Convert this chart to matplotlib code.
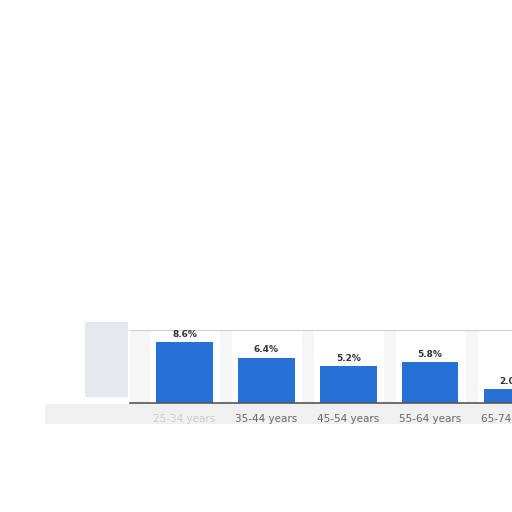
import matplotlib.pyplot as plt
from matplotlib.patches import Rectangle

categories = ["25-34 years", "35-44 years", "45-54 years", "55-64 years", "65-74 years"]
values = [8.6, 6.4, 5.2, 5.8, 2.0]

BAR_COLOR = "#2771d6"

fig = plt.figure(figsize=(5.12, 5.12), dpi=100)
fig.patch.set_facecolor("white")

# blurred shadow bits from the original screenshot (behind the axes)
fig.patches.append(Rectangle((85 / 512, 115 / 512), 43 / 512, 75 / 512, transform=fig.transFigure,
                             facecolor="#e4e8ee", edgecolor="none", zorder=-1))
fig.patches.append(Rectangle((45 / 512, 88 / 512), 467 / 512, 20 / 512, transform=fig.transFigure,
                             facecolor="#f0f0f0", edgecolor="none", zorder=-1))

ax = fig.add_axes([130 / 512, 109 / 512, 382 / 512, 73 / 512])
ax.set_facecolor("#f6f6f6")
x = range(len(values))
for i in x:
    ax.axvspan(i - 0.42, i + 0.42, color="white", zorder=0)
bars = ax.bar(x, values, width=0.69, color=BAR_COLOR, zorder=2)
for i, v in enumerate(values):
    ax.text(i, v + 0.45, f"{v:.1f}%", ha="center", va="bottom", fontsize=6.5,
            fontweight="bold", color="#333333")

ax.set_xlim(-0.667, 3.96)
ax.set_ylim(0, 10.3)
ax.set_yticks([])
ax.set_xticks(list(x))
ax.set_xticklabels(categories, fontsize=7.5, color="#666666")
ax.get_xticklabels()[0].set_color("#cccccc")
ax.tick_params(axis="x", length=0, pad=8)
for side in ["left", "right"]:
    ax.spines[side].set_visible(False)
ax.spines["top"].set_color("#cfcfcf")
ax.spines["bottom"].set_color("#555555")
ax.spines["bottom"].set_linewidth(1.2)

fig.savefig("out.png", dpi=100)
